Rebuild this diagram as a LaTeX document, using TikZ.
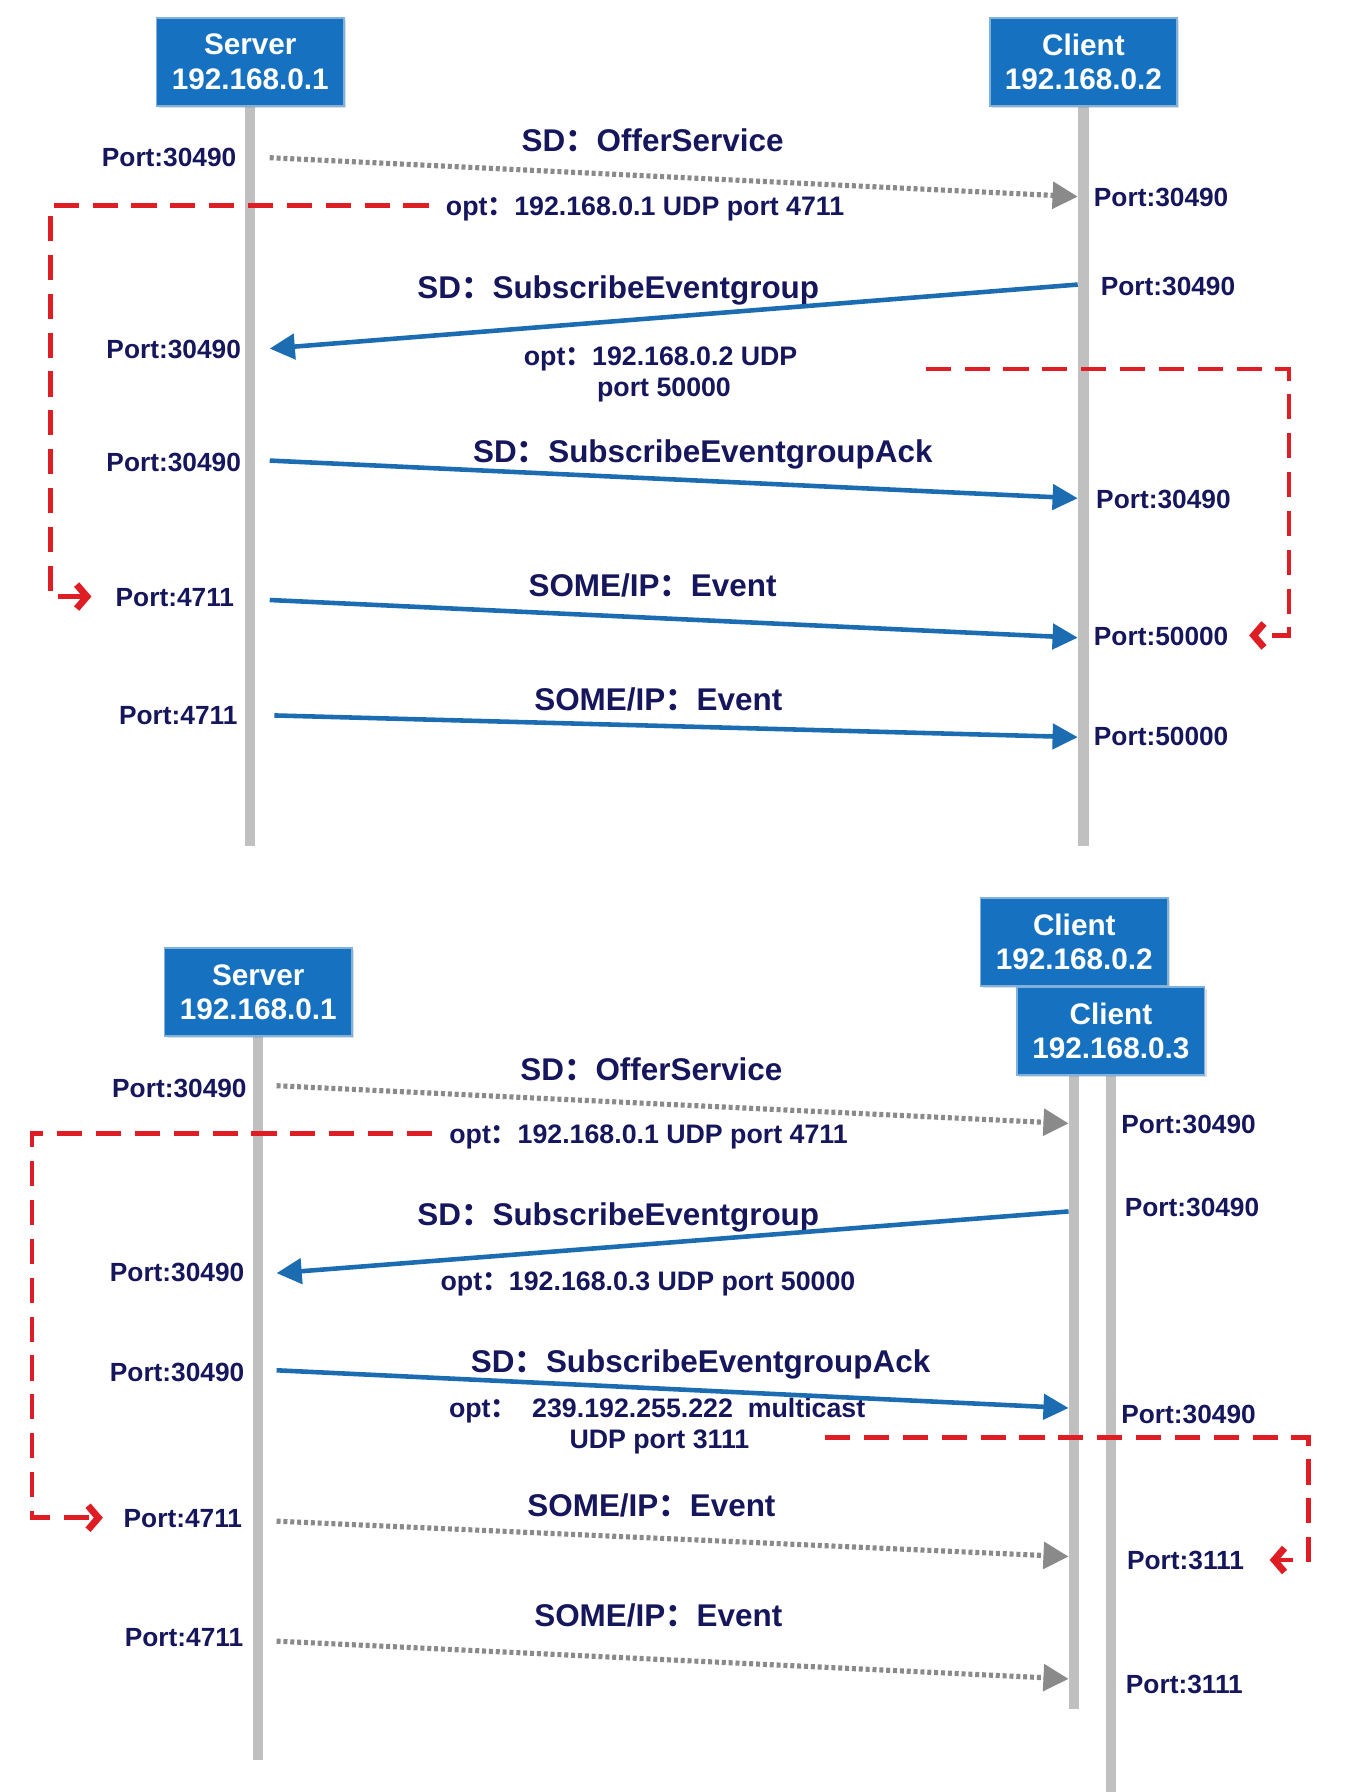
\documentclass[tikz,border=0pt]{standalone}
\usepackage{fontspec}
\setmainfont{Liberation Sans}
\newfontfamily\cjkfont{Noto Sans CJK SC}
\usetikzlibrary{arrows.meta,shadows,backgrounds}

\definecolor{hostblue}{RGB}{22,114,192}
\definecolor{textnavy}{RGB}{22,22,92}
\definecolor{msgblue}{RGB}{28,108,178}
\definecolor{lifegray}{RGB}{192,192,192}
\definecolor{dotgray}{RGB}{138,138,138}
\definecolor{optred}{RGB}{222,30,36}

\newcommand{\fcolon}{{\cjkfont ：}}

\begin{document}
\begin{tikzpicture}[x=1pt,y=-1pt]
	\tikzstyle{host}=[rectangle,draw=hostblue!55!white,line width=1.5pt,fill=hostblue,
				text=white,minimum width=164pt,minimum height=77pt,align=center,
				font=\fontsize{26}{30}\selectfont\bfseries,
				drop shadow={opacity=0.25,shadow xshift=2pt,shadow yshift=-2pt}]
	\tikzstyle{lifeline}=[line width=9pt,draw=lifegray]
	\tikzstyle{port}=[text=textnavy,font=\fontsize{23}{26}\selectfont\bfseries,
				inner sep=0pt,text height=0.72em,text depth=0pt,yshift=-5pt]
	\tikzstyle{msg}=[text=textnavy,font=\fontsize{27.5}{30}\selectfont\bfseries,
				inner sep=0pt,text height=0.72em,text depth=0pt,yshift=-5pt]
	\tikzstyle{optlabel}=[text=textnavy,font=\fontsize{23.4}{27}\selectfont\bfseries,
				inner sep=0pt,text height=0.72em,text depth=0pt,yshift=-5pt]
	\tikzstyle{sdmsg}=[line width=4pt,draw=msgblue,-{Triangle[length=22pt,width=22pt]}]
	\tikzstyle{dotmsg}=[line width=4.5pt,draw=dotgray,dash pattern=on 3.5pt off 2.5pt,
				-{Triangle[length=22pt,width=23pt]}]
	\tikzstyle{optflow}=[line width=4pt,draw=optred,dash pattern=on 22pt off 12pt,
				-{Straight Barb[length=9pt,width=21pt,line width=6pt]}]

	\useasboundingbox (0,0) rectangle (1190,1568);

	% ---- upper diagram: one client ----
	\node (server_top)[host] at (219,54) {Server\\192.168.0.1};
	\node (client_top)[host] at (948,54) {Client\\192.168.0.2};
	\coordinate (server_top_end) at (219,740);
	\coordinate (client_top_end) at (948,740);

	\node (port_top_l1)[port,anchor=east] at (207,137) {Port:30490};
	\node (port_top_l2)[port,anchor=east] at (211,305) {Port:30490};
	\node (port_top_l3)[port,anchor=east] at (211,404) {Port:30490};
	\node (port_top_l4)[port,anchor=east] at (205,522) {Port:4711};
	\node (port_top_l5)[port,anchor=east] at (208,625) {Port:4711};
	\node (port_top_r1)[port,anchor=west] at (957,172) {Port:30490};
	\node (port_top_r2)[port,anchor=west] at (963,250) {Port:30490};
	\node (port_top_r3)[port,anchor=west] at (959,436) {Port:30490};
	\node (port_top_r4)[port,anchor=west] at (957,556) {Port:50000};
	\node (port_top_r5)[port,anchor=west] at (957,644) {Port:50000};

	\node (msg_top_1)[msg] at (571,124) {SD\fcolon OfferService};
	\node (opt_top_1)[optlabel,anchor=west] at (390,180) {opt\fcolon 192.168.0.1 UDP port 4711};
	\node (msg_top_2)[msg] at (541,253) {SD\fcolon SubscribeEventgroup};
	\node (opt_top_2)[optlabel] at (578,311) {opt\fcolon 192.168.0.2 UDP};
	\node (opt_top_2b)[optlabel] at (581,338) {port 50000};
	\node (msg_top_3)[msg] at (615,396) {SD\fcolon SubscribeEventgroupAck};
	\node (msg_top_4)[msg] at (571,513) {SOME/IP\fcolon Event};
	\node (msg_top_5)[msg] at (576,613) {SOME/IP\fcolon Event};

	\coordinate (offer_top_s) at (236,138);  \coordinate (offer_top_e) at (943,172);
	\coordinate (sub_top_s) at (943,249);    \coordinate (sub_top_e) at (236,305);
	\coordinate (ack_top_s) at (236,403);    \coordinate (ack_top_e) at (943,436);
	\coordinate (ev1_top_s) at (236,525);    \coordinate (ev1_top_e) at (943,558);
	\coordinate (ev2_top_s) at (240,626);    \coordinate (ev2_top_e) at (943,645);

	\draw[dotmsg] (offer_top_s) -- (offer_top_e);
	\draw[sdmsg] (sub_top_s) -- (sub_top_e);
	\draw[sdmsg] (ack_top_s) -- (ack_top_e);
	\draw[sdmsg] (ev1_top_s) -- (ev1_top_e);
	\draw[sdmsg] (ev2_top_s) -- (ev2_top_e);

	\coordinate (start_top_a) at (375,180);
	\coordinate (loop_top_a) at (44,522);    \coordinate (tip_top_a) at (80,522);
	\coordinate (start_top_b) at (810,323);  \coordinate (loop_top_b) at (1128,556);
	\coordinate (tip_top_b) at (1093,556);
	\draw[optflow] (start_top_a) -| (loop_top_a) -- (tip_top_a);
	\draw[optflow] (start_top_b) -| (loop_top_b) -- (tip_top_b);

	% ---- lower diagram: two clients ----
	\node (server_bot)[host] at (226,868) {Server\\192.168.0.1};
	\node (client2_bot)[host] at (940,824) {Client\\192.168.0.2};
	\node (client3_bot)[host] at (972,902) {Client\\192.168.0.3};
	\coordinate (server_bot_end) at (226,1540);
	\coordinate (client2_bot_end) at (940,1495);
	\coordinate (client3_bot_end) at (972,1568);

	\node (port_bot_l1)[port,anchor=east] at (216,952) {Port:30490};
	\node (port_bot_l2)[port,anchor=east] at (214,1113) {Port:30490};
	\node (port_bot_l3)[port,anchor=east] at (214,1200) {Port:30490};
	\node (port_bot_l4)[port,anchor=east] at (212,1328) {Port:4711};
	\node (port_bot_l5)[port,anchor=east] at (213,1432) {Port:4711};
	\node (port_bot_r1)[port,anchor=west] at (981,983) {Port:30490};
	\node (port_bot_r2)[port,anchor=west] at (984,1056) {Port:30490};
	\node (port_bot_r3)[port,anchor=west] at (981,1237) {Port:30490};
	\node (port_bot_r4)[port,anchor=west] at (986,1365) {Port:3111};
	\node (port_bot_r5)[port,anchor=west] at (985,1473) {Port:3111};

	\node (msg_bot_1)[msg] at (570,937) {SD\fcolon OfferService};
	\node (opt_bot_1)[optlabel,anchor=west] at (393,992) {opt\fcolon 192.168.0.1 UDP port 4711};
	\node (msg_bot_2)[msg] at (541,1064) {SD\fcolon SubscribeEventgroup};
	\node (opt_bot_2)[optlabel] at (567,1121) {opt\fcolon 192.168.0.3 UDP port 50000};
	\node (msg_bot_3)[msg] at (613,1192) {SD\fcolon SubscribeEventgroupAck};
	\node (opt_bot_3)[optlabel] at (575,1232) {opt\fcolon\ \ 239.192.255.222\ \ multicast};
	\node (opt_bot_3b)[optlabel] at (577,1259) {UDP port 3111};
	\node (msg_bot_4)[msg] at (570,1318) {SOME/IP\fcolon Event};
	\node (msg_bot_5)[msg] at (576,1415) {SOME/IP\fcolon Event};

	\coordinate (offer_bot_s) at (242,950);  \coordinate (offer_bot_e) at (935,983);
	\coordinate (sub_bot_s) at (935,1060);   \coordinate (sub_bot_e) at (242,1114);
	\coordinate (ack_bot_s) at (242,1199);   \coordinate (ack_bot_e) at (935,1232);
	\coordinate (ev1_bot_s) at (242,1331);   \coordinate (ev1_bot_e) at (935,1362);
	\coordinate (ev2_bot_s) at (242,1436);   \coordinate (ev2_bot_e) at (935,1469);

	\draw[dotmsg] (offer_bot_s) -- (offer_bot_e);
	\draw[sdmsg] (sub_bot_s) -- (sub_bot_e);
	\draw[sdmsg] (ack_bot_s) -- (ack_bot_e);
	\draw[dotmsg] (ev1_bot_s) -- (ev1_bot_e);
	\draw[dotmsg] (ev2_bot_s) -- (ev2_bot_e);

	\coordinate (start_bot_a) at (378,992);
	\coordinate (loop_bot_a) at (28,1328);   \coordinate (tip_bot_a) at (90,1328);
	\coordinate (start_bot_b) at (722,1258); \coordinate (loop_bot_b) at (1145,1365);
	\coordinate (tip_bot_b) at (1111,1365);
	\draw[optflow] (start_bot_a) -| (loop_bot_a) -- (tip_bot_a);
	\draw[optflow] (start_bot_b) -| (loop_bot_b) -- (tip_bot_b);

	\begin{pgfonlayer}{background}
		\draw[lifeline] (server_top.south) -- (server_top_end);
		\draw[lifeline] (client_top.south) -- (client_top_end);
		\draw[lifeline] (server_bot.south) -- (server_bot_end);
		\draw[lifeline] (client2_bot.south) -- (client2_bot_end);
		\draw[lifeline] (client3_bot.south) -- (client3_bot_end);
	\end{pgfonlayer}
\end{tikzpicture}
\end{document}
